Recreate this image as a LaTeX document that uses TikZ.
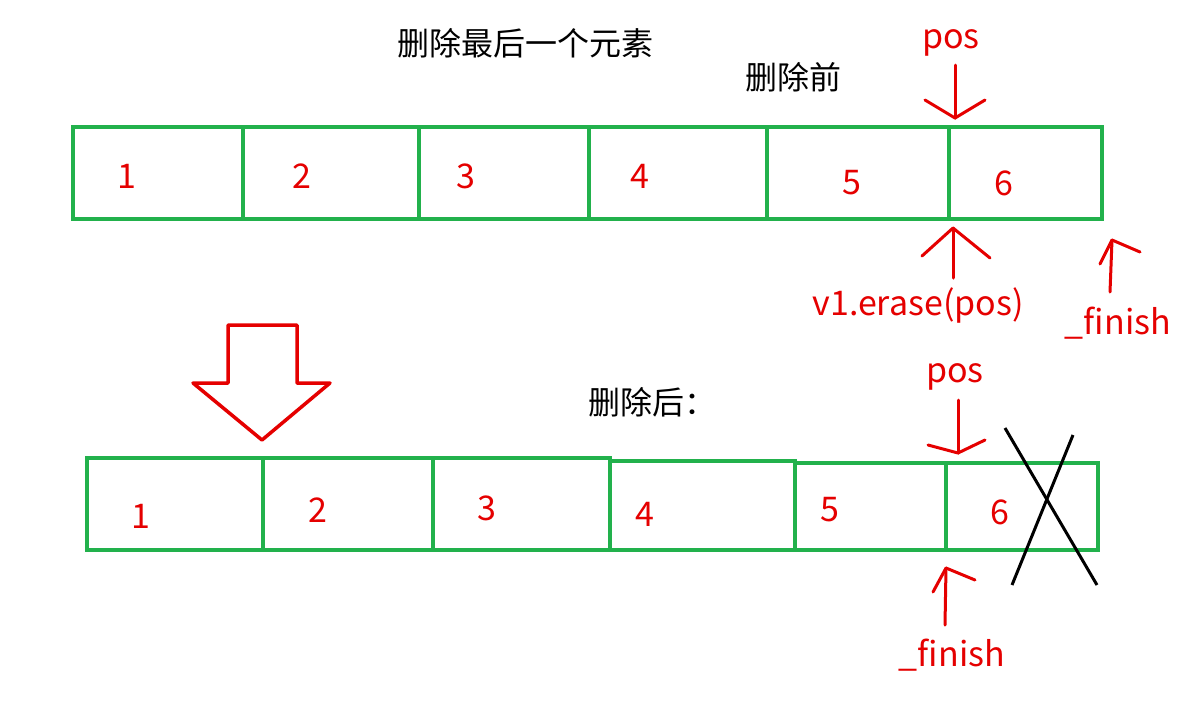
\documentclass[tikz,border=0pt]{standalone}
\usepackage{fontspec}
\setmainfont{Noto Sans CJK SC}
\begin{document}
\begin{tikzpicture}[x=1pt,y=-1pt,
  lab/.style={text=red!90!black,font=\fontsize{34}{36}\selectfont},
  ttl/.style={text=black,font=\fontsize{32}{34}\selectfont},
  rl/.style={draw=red!90!black,line width=3pt,line cap=round,line join=round}]
\useasboundingbox[fill=white] (0,0) rectangle (1184,705);
\definecolor{gr}{RGB}{34,177,76}
\tikzset{cell/.style={draw=gr,line width=4pt}}
% top row
\foreach \a/\b/\n/\tx/\ty [count=\i] in {73/243/1/127/176,243/419/2/302/176,419/589/3/466/176,589/767/4/640/176,767/949/5/852/183,949/1102/6/1004/183}{
  \draw[cell] (\a,127) rectangle (\b,219);
  \node[lab] (t\i) at (\tx,\ty) {\n};
}
% bottom row
\foreach \a/\b/\n/\tx/\ty/\yt [count=\i] in {87/263/1/141/516/458,263/433/2/318/510/458,433/610/3/487/508/458,610/795/4/645/514/461,795/946/5/830/510/463,946/1098/6/1000/512/463}{
  \draw[cell] (\a,\yt) rectangle (\b,550);
  \node[lab] (b\i) at (\tx,\ty) {\n};
}
\node[ttl] (title) at (525,43) {删除最后一个元素};
\node[ttl] (before) at (793,77) {删除前};
\node[ttl] (after) at (652,402) {删除后：};
% top pos
\node[lab] (pos1) at (951,43) {pos};
\coordinate (p1a) at (955,65); \coordinate (p1b) at (955,118);
\draw[rl] (p1a) -- (p1b);
\draw[rl] (925,100) -- (p1b) -- (985,100);
% erase
\node[lab] (erase) at (918,305) {v1.erase(pos)};
\coordinate (e1a) at (953,278); \coordinate (e1b) at (953,228);
\draw[rl] (e1a) -- (e1b);
\draw[rl] (922,256) -- (e1b) -- (990,258);
% finish top
\node[lab] (fin1) at (1118,323) {\_finish};
\coordinate (f1a) at (1110,292); \coordinate (f1b) at (1112,240);
\draw[rl] (f1a) -- (f1b);
\draw[rl] (1100,264) -- (f1b) -- (1140,252);
% bottom pos
\node[lab] (pos2) at (955,377) {pos};
\coordinate (p2a) at (958,400); \coordinate (p2b) at (958,453);
\draw[rl] (p2a) -- (p2b);
\draw[rl] (928,445) -- (p2b) -- (985,440);
% finish bottom
\node[lab] (fin2) at (952,655) {\_finish};
\coordinate (f2a) at (945,625); \coordinate (f2b) at (946,568);
\draw[rl] (f2a) -- (f2b);
\draw[rl] (933,592) -- (f2b) -- (975,580);
% cross
\draw[line width=3pt] (1005,428) -- (1097,585);
\draw[line width=3pt] (1073,435) -- (1012,585);
% big arrow
\draw[rl,line width=3.5pt] (228,325) -- (297,325) -- (297,383) -- (330,383) -- (262,440) -- (193,383) -- (228,383) -- cycle;
\end{tikzpicture}
\end{document}
